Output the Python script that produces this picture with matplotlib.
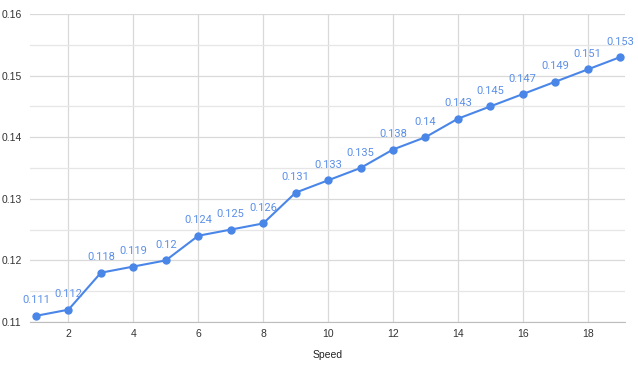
import matplotlib
matplotlib.use("Agg")
import matplotlib.pyplot as plt
from matplotlib.ticker import MultipleLocator

# data
speed = list(range(1, 20))
values = [0.111, 0.112, 0.118, 0.119, 0.12, 0.124, 0.125, 0.126, 0.131, 0.133,
          0.135, 0.138, 0.14, 0.143, 0.145, 0.147, 0.149, 0.151, 0.153]
value_labels = ["0.111", "0.112", "0.118", "0.119", "0.12", "0.124", "0.125", "0.126",
                "0.131", "0.133", "0.135", "0.138", "0.14", "0.143", "0.145", "0.147",
                "0.149", "0.151", "0.153"]
x_label = "Speed"

plt.rcParams['font.family'] = ['Liberation Sans', 'DejaVu Sans']

fig = plt.figure(figsize=(6.38, 3.74), dpi=100)
ax = fig.add_axes([30 / 638, 1 - 322 / 374, 595 / 638, 308 / 374])

line_col = "#4a86e8"
ax.plot(speed, values, color=line_col, lw=1.5, marker="o", markersize=5, zorder=3)

# value labels above each point
for x, y, s in zip(speed, values, value_labels):
    ax.annotate(s, (x, y), xytext=(0, 7.5), textcoords="offset points",
                ha="center", va="bottom", fontsize=8, color="#5b8fe8",
                family=['Roboto', 'DejaVu Sans'])

ax.set_xlim(0.815, 19.15)
ax.set_ylim(0.11, 0.16)
ax.xaxis.set_major_locator(MultipleLocator(2))
ax.yaxis.set_major_locator(MultipleLocator(0.01))
ax.yaxis.set_minor_locator(MultipleLocator(0.005))
ax.yaxis.set_major_formatter(lambda v, p: f"{v:g}")

ax.grid(True, which="major", color="#d9d9d9", lw=0.9)
ax.grid(True, which="minor", axis="y", color="#e6e6e6", lw=0.9)
ax.set_axisbelow(True)

for side in ["top", "right", "left"]:
    ax.spines[side].set_visible(False)
ax.spines["bottom"].set_color("#bdbdbd")

ax.tick_params(which="both", length=0, labelsize=7.5, labelcolor="#333333")
ax.tick_params(axis="y", pad=6)
ax.tick_params(axis="x", pad=5)

ax.set_xlabel(x_label, fontsize=7.5, color="#222222", labelpad=8)

fig.savefig("out.png", dpi=100)
